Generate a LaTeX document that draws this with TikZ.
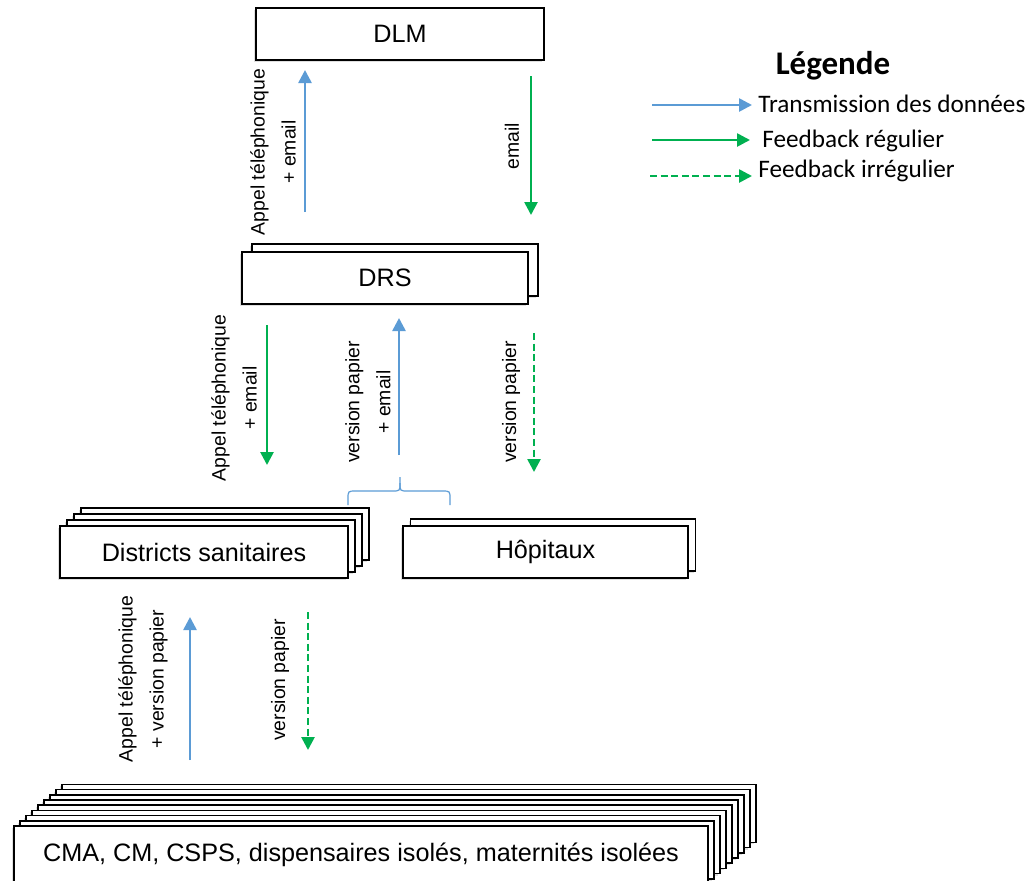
\documentclass[tikz,border=0pt]{standalone}
\usepackage{fontspec}
\setmainfont{Liberation Sans}
\newfontfamily\legendfont{Carlito}
\usetikzlibrary{arrows.meta, shadows}
\definecolor{dataBlue}{HTML}{5B9BD5}
\definecolor{feedGreen}{HTML}{00B050}

\begin{document}
\begin{tikzpicture}[x=0.5pt, y=-0.5pt]
	\tikzstyle{box} = [rectangle, draw=black, line width=0.75pt, fill=white, 
	minimum height=26pt, text centered, font=\fontsize{12.6}{15}\selectfont, 
	drop shadow={shadow xshift=-0.8pt, shadow yshift=-1pt, opacity=0.25}]
	\tikzstyle{transmit} = [line width=1.3pt, dataBlue, -{Triangle[length=6.5pt, width=6.5pt]}]
	\tikzstyle{feedback} = [line width=1.3pt, feedGreen, -{Triangle[length=6.5pt, width=6.5pt]}]
	\tikzstyle{irregular} = [feedback, dash pattern=on 3.5pt off 1.8pt]
	\tikzstyle{means} = [rotate=90, align=center, inner sep=0pt, 
	font=\fontsize{9.7}{15.5}\selectfont]
	\tikzstyle{legendtext} = [anchor=west, inner sep=0pt, 
	font=\legendfont\fontsize{12.6}{15}\selectfont]
	\useasboundingbox (0,0) rectangle (1033,880);
	\node (dlm) [box, minimum width=144pt] at (400,34) {DLM};
	\node (drsBack) [box, minimum width=143pt] at (395,270) {};
	\node (drs) [box, minimum width=143pt] at (385,278) {DRS};
	\foreach \i in {3,2,1}
		\node (district\i) [box, minimum width=144pt] at (204+7*\i,552-6*\i) {};
	\node (districts) [box, minimum width=144pt] at (204,552) {Districts sanitaires};
	\node (hospitalBack) [box, minimum width=142.5pt] at (553,545) {};
	\node (hospitals) [box, minimum width=142.5pt] at (545.5,552) {Hôpitaux};
	\foreach \i in {8,7,...,1}
		\node (cma\i) [box, minimum width=347pt, minimum height=29pt] at (361+6*\i,855-5.2*\i) {};
	\node (cma) [box, minimum width=347pt, minimum height=29pt] at (361,855) 
	{CMA, CM, CSPS, dispensaires isolés, maternités isolées};
	\coordinate (drsUpStart) at (305,212);
	\coordinate (drsUpEnd) at (305,70);
	\coordinate (dlmDownStart) at (531,76);
	\coordinate (dlmDownEnd) at (531,215);
	\coordinate (drsDownStart) at (267,325);
	\coordinate (drsDownEnd) at (267,465);
	\coordinate (baseUpStart) at (399,455);
	\coordinate (baseUpEnd) at (399,318);
	\coordinate (drsPaperStart) at (534,333);
	\coordinate (drsPaperEnd) at (534,472);
	\coordinate (cmaUpStart) at (190,760);
	\coordinate (cmaUpEnd) at (190,617);
	\coordinate (districtPaperStart) at (308,612);
	\coordinate (districtPaperEnd) at (308,750);
	\draw [transmit] (drsUpStart) -- (drsUpEnd);
	\draw [feedback] (dlmDownStart) -- (dlmDownEnd);
	\draw [feedback] (drsDownStart) -- (drsDownEnd);
	\draw [transmit] (baseUpStart) -- (baseUpEnd);
	\draw [irregular] (drsPaperStart) -- (drsPaperEnd);
	\draw [transmit] (cmaUpStart) -- (cmaUpEnd);
	\draw [irregular] (districtPaperStart) -- (districtPaperEnd);
	\node (drsUpText) [means] at (273,152) {Appel téléphonique\\+ email};
	\node (dlmDownText) [means] at (512,146) {email};
	\node (drsDownText) [means] at (234,398) {Appel téléphonique\\+ email};
	\node (baseUpText) [means] at (368,402) {version papier\\+ email};
	\node (drsPaperText) [means] at (511,402) {version papier};
	\node (cmaUpText) [means] at (143,679) {Appel téléphonique\\+ version papier};
	\node (districtPaperText) [means] at (280,680) {version papier};
	\draw [dataBlue, line width=0.6pt] (348,505) -- (348,499) .. controls (348,491) .. (356,491) 
	-- (392,491) .. controls (400,491) .. (400,483) -- (400,477);
	\draw [dataBlue, line width=0.6pt] (400,483) .. controls (400,491) .. (408,491) 
	-- (442,491) .. controls (450,491) .. (450,499) -- (450,505);
	\node (legend) [font=\legendfont\bfseries\fontsize{16.5}{19}\selectfont] at (833,66) {Légende};
	\coordinate (keyDataStart) at (652,105);
	\coordinate (keyDataEnd) at (752,105);
	\coordinate (keyRegularStart) at (652,140);
	\coordinate (keyRegularEnd) at (750,140);
	\coordinate (keyIrregularStart) at (650,176);
	\coordinate (keyIrregularEnd) at (752,176);
	\draw [transmit] (keyDataStart) -- (keyDataEnd);
	\draw [feedback] (keyRegularStart) -- (keyRegularEnd);
	\draw [irregular] (keyIrregularStart) -- (keyIrregularEnd);
	\node (keyData) [legendtext] at (758,104) {Transmission des données};
	\node (keyRegular) [legendtext] at (762,141) {Feedback régulier};
	\node (keyIrregular) [legendtext] at (758,171) {Feedback irrégulier};
\end{tikzpicture}
\end{document}
